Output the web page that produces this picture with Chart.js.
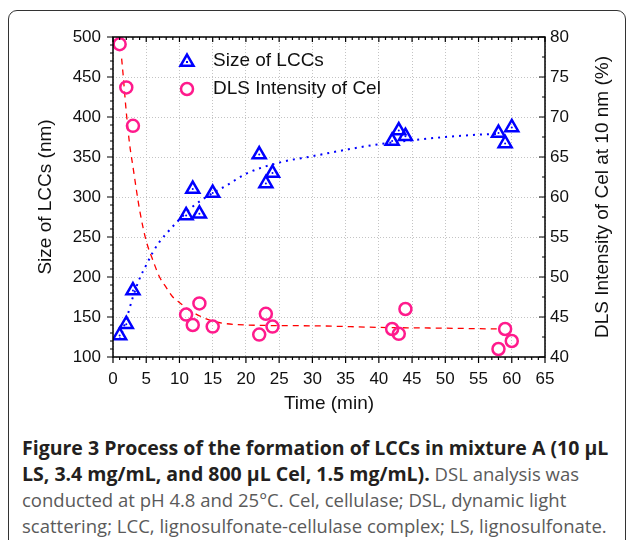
<!DOCTYPE html>
<html>
<head>
<meta charset="utf-8">
<script src="https://cdn.jsdelivr.net/npm/chart.js@4"></script>
<style>
  html, body { margin: 0; padding: 0; background: #fff; }
  body { width: 629px; height: 540px; overflow: hidden; position: relative; }
  #frame { position: absolute; left: 8px; top: 10px; width: 616px; height: 600px;
    border: 1.5px solid #333; border-radius: 9px; }
  #wrap { position: absolute; left: 0; top: 0; width: 629px; height: 420px; }
  #caption { position: absolute; left: 22px; top: 435px; width: 607px;
    font-family: "Open Sans", sans-serif; font-size: 18.5px; line-height: 26px;
    color: #5a5a5a; white-space: nowrap; }
  #caption b { color: #231f20; font-weight: 700; font-size: 19.5px; }
</style>
</head>
<body>
<div id="frame"></div>
<div id="wrap"><canvas id="myChart" width="629" height="420"></canvas></div>
<div id="caption">
  <b>Figure 3 Process of the formation of LCCs in mixture A (10 µL</b><br>
  <b>LS, 3.4 mg/mL, and 800 µL Cel, 1.5 mg/mL).</b> DSL analysis was<br>
  conducted at pH 4.8 and 25°C. Cel, cellulase; DSL, dynamic light<br>
  scattering; LCC, lignosulfonate-cellulase complex; LS, lignosulfonate.
</div>
<script>
// measured points
const timeLcc = [1, 2, 3, 11, 12, 13, 15, 22, 23, 24, 42, 43, 44, 58, 59, 60];
const sizeLcc = [127, 141, 183, 277, 310, 279, 305, 353, 317, 330, 370, 383, 376, 380, 367, 387];
const timeCel = [1, 2, 3, 11, 12, 13, 15, 22, 23, 24, 42, 43, 44, 58, 59, 60];
const intensityCel = [79.1, 73.7, 68.9, 45.3, 44.0, 46.7, 43.8, 42.8, 45.4, 43.8, 43.5, 42.9, 46.0, 41.0, 43.5, 42.0];

// fitted curves
const fitTimeSize = [1, 2, 3, 4, 5, 6, 7, 8, 10, 12, 15, 17, 20, 25, 30, 35, 40, 45, 50, 55, 58];
const fitSize = [122, 147, 175, 198, 215, 231, 244, 254, 272, 288, 305, 314, 329, 343, 351, 359, 366, 371, 375, 378, 379];
const fitTimeCel = [1.3, 1.5, 2, 2.5, 3, 4, 5, 6, 7, 8, 9, 10, 12, 15, 20, 30, 40, 50, 58];
const fitCel = [77.3, 75.5, 70.6, 66.6, 63.8, 58.4, 54.5, 52.1, 50.0, 48.7, 47.5, 46.8, 45.6, 44.5, 44.0, 43.9, 43.7, 43.6, 43.5];

const seriesNames = ['Size of LCCs', 'DLS Intensity of Cel'];
const xTitle = 'Time (min)';
const yTitle = 'Size of LCCs (nm)';
const y2Title = 'DLS Intensity of Cel at 10 nm (%)';

const BLUE = '#0000ff';
const PINK = '#ff1a8c';
const FONT = '"Liberation Sans", Arial, sans-serif';

const pts = (xs, ys) => xs.map((x, i) => ({x: x, y: ys[i]}));

// frame, minor/major ticks, legend, right title
const decor = {
  id: 'decor',
  afterDraw(chart) {
    const {ctx, chartArea: a, scales} = chart;
    ctx.save();
    ctx.strokeStyle = '#000';
    ctx.lineWidth = 1.5;
    ctx.strokeRect(a.left, a.top, a.right - a.left, a.bottom - a.top);
    ctx.lineWidth = 1.2;
    ctx.beginPath();
    for (let v = 0; v <= 65; v++) {
      const px = scales.x.getPixelForValue(v);
      const major = v % 5 === 0;
      ctx.moveTo(px, a.bottom); ctx.lineTo(px, a.bottom + (major ? 6 : 3));
      ctx.moveTo(px, a.top); ctx.lineTo(px, a.top + (major ? 5 : 3));
    }
    for (let v = 100; v <= 500; v += 10) {
      const py = scales.y.getPixelForValue(v);
      ctx.moveTo(a.left, py); ctx.lineTo(a.left - (v % 50 === 0 ? 6 : 3), py);
    }
    for (let v = 40; v <= 80; v += 2.5) {
      const py = scales.y2.getPixelForValue(v);
      ctx.moveTo(a.right, py); ctx.lineTo(a.right - (v % 5 === 0 ? 6 : 3), py);
    }
    ctx.stroke();

    // legend
    const d0 = chart.data.datasets[0], d1 = chart.data.datasets[1];
    const r = d0.pointRadius, lx = 187, ly = 62;
    ctx.strokeStyle = d0.borderColor; ctx.lineWidth = 2.5;
    ctx.beginPath();
    ctx.moveTo(lx, ly - r);
    ctx.lineTo(lx + r * Math.sin(2 * Math.PI / 3), ly + r / 2);
    ctx.lineTo(lx - r * Math.sin(2 * Math.PI / 3), ly + r / 2);
    ctx.closePath(); ctx.stroke();
    ctx.fillStyle = d0.borderColor;
    ctx.fillRect(lx - 1, ly - 1, 2, 2);
    ctx.strokeStyle = d1.borderColor;
    ctx.beginPath(); ctx.arc(lx, 89, d1.pointRadius, 0, Math.PI * 2); ctx.stroke();
    ctx.fillStyle = '#111';
    ctx.font = '19px ' + FONT;
    ctx.textBaseline = 'middle';
    ctx.textAlign = 'left';
    ctx.fillText(seriesNames[0], 213, 61);
    ctx.fillText(seriesNames[1], 213, 89);

    // right axis title, reading bottom to top
    ctx.translate(603, (a.top + a.bottom) / 2);
    ctx.rotate(-Math.PI / 2);
    ctx.textAlign = 'center';
    ctx.fillText(y2Title, 0, 0);
    ctx.restore();
  }
};

const ctx = document.getElementById('myChart').getContext('2d');
const chart = new Chart(ctx, {
  type: 'scatter',
  data: {
    datasets: [
      {
        label: seriesNames[0],
        data: pts(timeLcc, sizeLcc),
        yAxisID: 'y',
        pointStyle: 'triangle',
        pointRadius: 7.5,
        borderWidth: 2.5,
        borderColor: BLUE,
        backgroundColor: 'rgba(0,0,0,0)',
        order: 1
      },
      {
        label: seriesNames[1],
        data: pts(timeCel, intensityCel),
        yAxisID: 'y2',
        pointStyle: 'circle',
        pointRadius: 6,
        borderWidth: 2.5,
        borderColor: PINK,
        backgroundColor: 'rgba(0,0,0,0)',
        order: 2
      },
      {
        label: 'dots',
        data: pts(timeLcc, sizeLcc),
        yAxisID: 'y',
        pointRadius: 1,
        borderWidth: 0,
        backgroundColor: BLUE,
        order: 0
      },
      {
        label: 'fit size',
        data: pts(fitTimeSize, fitSize),
        yAxisID: 'y',
        showLine: true,
        pointRadius: 0,
        borderColor: BLUE,
        borderWidth: 2,
        borderDash: [2, 5],
        cubicInterpolationMode: 'monotone',
        order: 3
      },
      {
        label: 'fit cel',
        data: pts(fitTimeCel, fitCel),
        yAxisID: 'y2',
        showLine: true,
        pointRadius: 0,
        borderColor: '#ff0000',
        borderWidth: 1.3,
        borderDash: [6, 5],
        cubicInterpolationMode: 'monotone',
        order: 4
      }
    ]
  },
  options: {
    responsive: false,
    animation: false,
    layout: { padding: { top: 37, left: 0, right: 0, bottom: 0 } },
    plugins: { legend: { display: false }, tooltip: { enabled: false } },
    scales: {
      x: {
        type: 'linear', min: 0, max: 65,
        ticks: { stepSize: 5, padding: 12, color: '#111', font: { family: FONT, size: 17 } },
        grid: { color: '#c4c4c4', lineWidth: 1, drawTicks: false },
        border: { display: false, dash: [1, 2] },
        title: { display: true, text: xTitle, color: '#111', font: { family: FONT, size: 19 }, padding: { top: 0, bottom: 5 } },
        afterFit(s) { s.height = 63; }
      },
      y: {
        position: 'left', min: 100, max: 500,
        ticks: { stepSize: 50, padding: 12, color: '#111', font: { family: FONT, size: 17 } },
        grid: { color: '#c4c4c4', lineWidth: 1, drawTicks: false },
        border: { display: false, dash: [1, 2] },
        title: { display: true, text: yTitle, color: '#111', font: { family: FONT, size: 19 }, padding: { top: 34, bottom: 0 } },
        afterFit(s) { s.width = 113; }
      },
      y2: {
        position: 'right', min: 40, max: 80,
        ticks: { stepSize: 5, padding: 5, color: '#111', font: { family: FONT, size: 17 } },
        grid: { drawOnChartArea: false, drawTicks: false },
        border: { display: false },
        afterFit(s) { s.width = 84; }
      }
    }
  },
  plugins: [decor]
});
</script>
</body>
</html>
